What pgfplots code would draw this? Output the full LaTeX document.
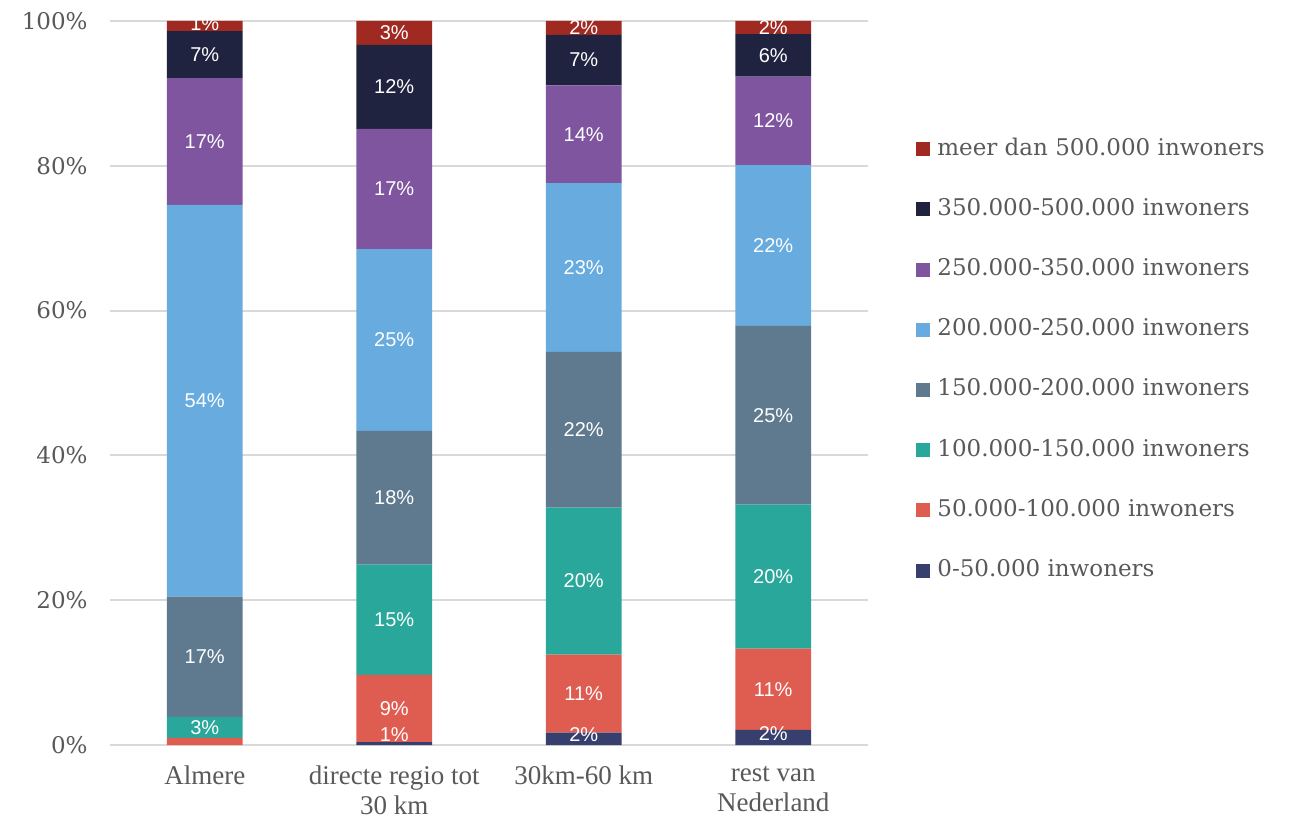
\documentclass[border=0pt]{standalone}
\usepackage{pgfplots}
\pgfplotsset{compat=1.18}
\usepackage{fontspec}
\setmainfont{DejaVu Serif}
\newfontfamily\barfont{Liberation Sans}
\newfontfamily\catfont{Liberation Serif}

\definecolor{txt}{HTML}{595959}
\definecolor{gridc}{HTML}{D9D9D9}
\definecolor{cA}{HTML}{363F6E}
\definecolor{cB}{HTML}{DF5C51}
\definecolor{cC}{HTML}{2AA79B}
\definecolor{cD}{HTML}{5F7A8E}
\definecolor{cE}{HTML}{67ABDF}
\definecolor{cF}{HTML}{7E559E}
\definecolor{cG}{HTML}{1F2340}
\definecolor{cH}{HTML}{A02A22}

\pgfplotsset{
  frame/.style={width=379pt, height=362pt, scale only axis,
    xmin=-0.5, xmax=3.5, ymin=0, ymax=100},
  sqlegend/.style={legend image code/.code={\fill[##1] (0pt,-3.5pt) rectangle (7pt,3.5pt);}},
}

\begin{document}
\begin{tikzpicture}
\begin{axis}[
    name=main, frame,
    ybar stacked,
    bar width=0.4,
    axis line style={draw=none},
    major tick length=0pt,
    xtick={0,1,2,3},
    xticklabels={Almere, {directe regio tot\\30 km}, 30km-60 km, {rest van\\Nederland}},
    xticklabel style={align=center, text=txt, font=\catfont\fontsize{13.5}{15}\selectfont, yshift=-7pt},
    ytick={0,20,40,60,80,100},
    yticklabels={0\%,20\%,40\%,60\%,80\%,100\%},
    yticklabel style={text=txt, font=\fontsize{11.5}{13}\selectfont, inner sep=0pt, xshift=-11pt},
    ymajorgrids,
    grid style={gridc, line width=1pt},
    every axis plot/.append style={sqlegend},
    reverse legend,
    legend cell align=left,
    legend style={at={(1,0.532)}, anchor=west, xshift=24pt, draw=none, fill=none,
        inner sep=0pt, text=txt, font=\fontsize{11.5}{13}\selectfont,
        nodes={inner sep=0pt, text height=8pt, text depth=2pt},
        row sep=20.1pt, column sep=3.5pt},
]
\addplot[fill=cA, draw=none] coordinates {(0,0) (1,0.4) (2,1.7) (3,2.1)};
\addplot[fill=cB, draw=none] coordinates {(0,1.0) (1,9.3) (2,10.8) (3,11.2)};
\addplot[fill=cC, draw=none] coordinates {(0,2.9) (1,15.2) (2,20.3) (3,19.9)};
\addplot[fill=cD, draw=none] coordinates {(0,16.6) (1,18.5) (2,21.5) (3,24.7)};
\addplot[fill=cE, draw=none] coordinates {(0,54.1) (1,25.1) (2,23.3) (3,22.2)};
\addplot[fill=cF, draw=none] coordinates {(0,17.5) (1,16.6) (2,13.5) (3,12.2)};
\addplot[fill=cG, draw=none] coordinates {(0,6.5) (1,11.6) (2,7.0) (3,5.9)};
\addplot[fill=cH, draw=none] coordinates {(0,1.4) (1,3.3) (2,1.9) (3,1.8)};
\legend{0-50.000 inwoners, 50.000-100.000 inwoners, 100.000-150.000 inwoners,
  150.000-200.000 inwoners, 200.000-250.000 inwoners, 250.000-350.000 inwoners,
  350.000-500.000 inwoners, meer dan 500.000 inwoners}
\end{axis}
\begin{axis}[frame, hide axis]
\addplot[draw=none, mark=none, nodes near coords, point meta=explicit symbolic,
  nodes near coords align=center,
  every node near coord/.append style={anchor=center, text=white, inner sep=0pt,
    font=\barfont\fontsize{10}{12}\selectfont}]
  table[meta=lab] {
x y lab
0 2.45 3\%
0 12.2 17\%
0 47.55 54\%
0 83.35 17\%
0 95.35 7\%
0 99.6 1\%
1 1.4 1\%
1 5.05 9\%
1 17.3 15\%
1 34.15 18\%
1 55.95 25\%
1 76.8 17\%
1 90.9 12\%
1 98.35 3\%
2 1.4 2\%
2 7.1 11\%
2 22.65 20\%
2 43.55 22\%
2 65.95 23\%
2 84.35 14\%
2 94.6 7\%
2 99.05 2\%
3 1.6 2\%
3 7.7 11\%
3 23.25 20\%
3 45.55 25\%
3 69.0 22\%
3 86.2 12\%
3 95.25 6\%
3 99.1 2\%
};
\end{axis}
\pgfresetboundingbox
\path ([shift={(-55pt,-37.5pt)}]main.south west) rectangle ([shift={(210.5pt,10.5pt)}]main.north east);
\end{tikzpicture}
\end{document}
